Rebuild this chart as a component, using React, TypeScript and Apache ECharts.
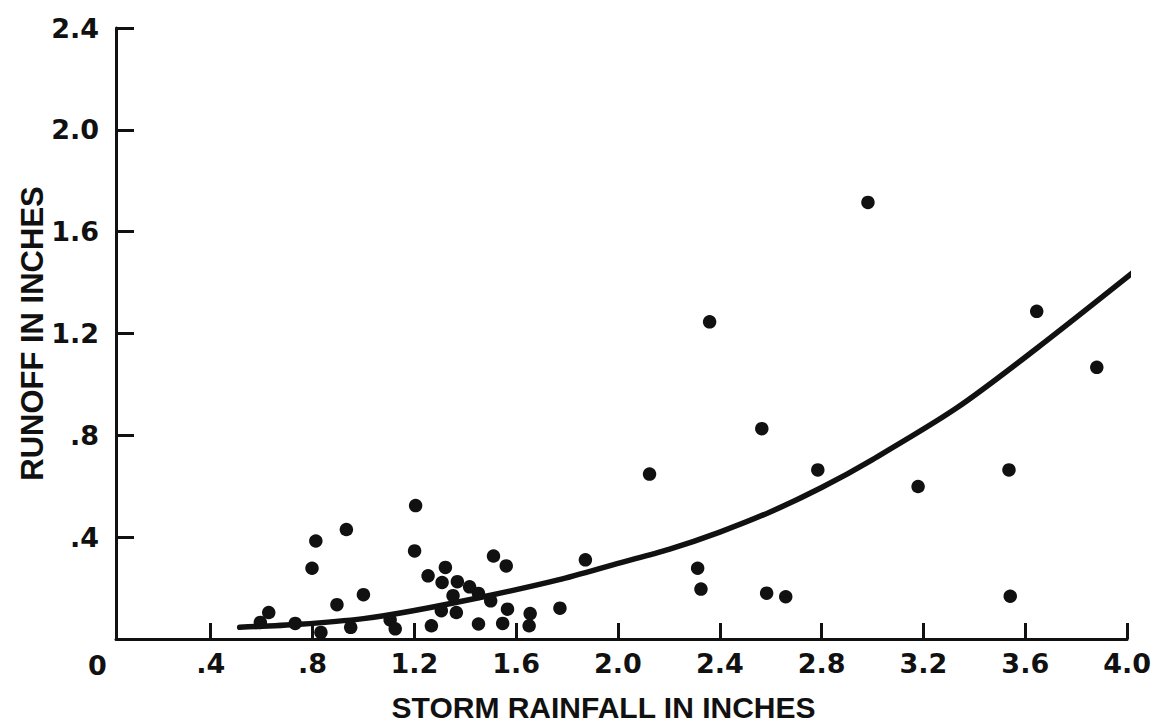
import React, { useEffect, useRef } from "react";
import * as echarts from "echarts";

// Storm rainfall (in) and runoff (in) for each observed storm
const rainfall = [
  0.595, 0.628, 0.732, 0.798, 0.813, 0.833, 0.896, 0.933, 0.95, 1.0,
  1.105, 1.125, 1.205, 1.201, 1.254, 1.267, 1.306, 1.309, 1.322, 1.352,
  1.365, 1.369, 1.417, 1.452, 1.452, 1.5, 1.511, 1.547, 1.561, 1.566,
  1.651, 1.655, 1.772, 1.872, 2.124, 2.313, 2.326, 2.36, 2.565, 2.584,
  2.659, 2.785, 2.982, 3.179, 3.536, 3.541, 3.645, 3.881,
];
const runoff = [
  0.065, 0.104, 0.061, 0.278, 0.385, 0.026, 0.135, 0.43, 0.046, 0.174,
  0.075, 0.04, 0.524, 0.346, 0.248, 0.052, 0.111, 0.222, 0.281, 0.17,
  0.104, 0.225, 0.205, 0.179, 0.059, 0.15, 0.326, 0.061, 0.287, 0.117,
  0.052, 0.1, 0.121, 0.311, 0.648, 0.278, 0.196, 1.246, 0.826, 0.18,
  0.166, 0.664, 1.715, 0.599, 0.664, 0.168, 1.287, 1.067,
];

// Fitted curve
const curveX = [0.514, 0.75, 1.0, 1.2, 1.5, 1.765, 2.0, 2.2, 2.4, 2.6, 2.8, 3.0, 3.33, 3.643, 4.041];
const curveY = [0.046, 0.058, 0.08, 0.112, 0.172, 0.232, 0.297, 0.352, 0.42, 0.5, 0.595, 0.705, 0.907, 1.14, 1.454];

// Ticks
const xTickValues = [0.4, 0.8, 1.2, 1.6, 2.0, 2.4, 2.8, 3.2, 3.6, 4.0];
const xTickLabels = [".4", ".8", "1.2", "1.6", "2.0", "2.4", "2.8", "3.2", "3.6", "4.0"];
const yTickValues = [0, 0.4, 0.8, 1.2, 1.6, 2.0, 2.4];
const yTickLabels = ["", ".4", ".8", "1.2", "1.6", "2.0", "2.4"];
const originLabel = "0";

const xTitle = "STORM RAINFALL IN INCHES";
const yTitle = "RUNOFF IN INCHES";

const TITLE_FONT = "'Liberation Sans', Arial, sans-serif";
const LABEL_FONT = "'DejaVu Sans', 'Liberation Sans', sans-serif";
const INK = "#111111";

function nearestLabel(values: number[], labels: string[], v: number) {
  let best = 0;
  let d = Infinity;
  values.forEach((t, i) => {
    const dd = Math.abs(t - v);
    if (dd < d) {
      d = dd;
      best = i;
    }
  });
  return d < 0.01 ? labels[best] : "";
}

export default function App() {
  const ref = useRef<HTMLDivElement>(null);

  useEffect(() => {
    if (!ref.current) return;
    const chart = echarts.init(ref.current, undefined, { renderer: "svg" });
    const scatterData = rainfall.map((x, i) => [x, runoff[i]]);
    const curveData = curveX.map((x, i) => [x, curveY[i]]);

    chart.setOption({
      animation: false,
      backgroundColor: "#ffffff",
      grid: { left: 116, right: 22, top: 28, bottom: 85 },
      xAxis: {
        type: "value",
        min: 0.028,
        max: 4.0,
        splitLine: { show: false },
        axisLine: { show: true, onZero: false, lineStyle: { color: INK, width: 3 } },
        axisTick: {
          show: true,
          inside: true,
          length: 16,
          customValues: xTickValues,
          lineStyle: { color: INK, width: 3 },
        },
        axisLabel: {
          show: true,
          customValues: xTickValues,
          margin: 11,
          color: INK,
          fontFamily: LABEL_FONT,
          fontWeight: "bold",
          fontSize: 27,
          formatter: (v: number) => nearestLabel(xTickValues, xTickLabels, v),
        },
        name: xTitle,
        nameLocation: "middle",
        nameGap: 53,
        nameMoveOverlap: false,
        nameTextStyle: {
          color: INK,
          fontFamily: TITLE_FONT,
          fontWeight: "bold",
          fontSize: 30,
          padding: [0, 36, 0, 0],
        },
      },
      yAxis: {
        type: "value",
        min: 0,
        max: 2.4,
        interval: 0.4,
        splitLine: { show: false },
        axisLine: { show: true, onZero: false, lineStyle: { color: INK, width: 3 } },
        axisTick: {
          show: true,
          inside: true,
          length: 18,
          lineStyle: { color: INK, width: 3 },
        },
        axisLabel: {
          show: true,
          margin: 17,
          color: INK,
          fontFamily: LABEL_FONT,
          fontWeight: "bold",
          fontSize: 27,
          formatter: (v: number) => nearestLabel(yTickValues, yTickLabels, v),
        },
        name: yTitle,
        nameLocation: "middle",
        nameRotate: 90,
        nameGap: 68,
        nameMoveOverlap: false,
        nameTextStyle: {
          color: INK,
          fontFamily: TITLE_FONT,
          fontWeight: "bold",
          fontSize: 31,
        },
      },
      graphic: [
        {
          type: "text",
          left: 97 - 9,
          top: 652,
          style: {
            text: originLabel,
            fill: INK,
            font: `bold 27px ${LABEL_FONT}`,
          },
        },
      ],
      series: [
        {
          type: "line",
          data: curveData,
          smooth: 0.3,
          showSymbol: false,
          symbol: "none",
          clip: false,
          lineStyle: { color: INK, width: 5.5, cap: "round" },
          z: 2,
        },
        {
          type: "scatter",
          data: scatterData,
          symbol: "circle",
          symbolSize: 13.5,
          clip: false,
          itemStyle: { color: INK, opacity: 1 },
          z: 3,
        },
      ],
    });

    return () => chart.dispose();
  }, []);

  return (
    <div
      ref={ref}
      style={{ position: "fixed", left: 0, top: 0, width: 1154, height: 727, background: "#fff" }}
    />
  );
}
